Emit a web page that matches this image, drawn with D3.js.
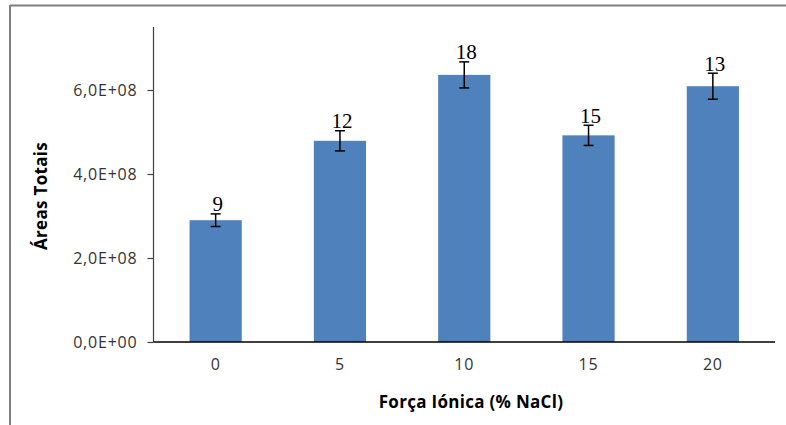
<!DOCTYPE html>
<html><head><meta charset="utf-8">
<script src="https://cdn.jsdelivr.net/npm/d3@7"></script>
<style>html,body{margin:0;padding:0;background:#fff;}</style>
</head><body>
<svg id="c" width="786" height="425"></svg>
<script>
const categories = ["0", "5", "10", "15", "20"];
const values = [2.90e8, 4.79e8, 6.36e8, 4.92e8, 6.09e8];
const errors = [0.15e8, 0.24e8, 0.31e8, 0.24e8, 0.31e8];
const labels = ["9", "12", "18", "15", "13"];
const yTicks = [0, 2e8, 4e8, 6e8];
const yTickLabels = ["0,0E+00", "2,0E+08", "4,0E+08", "6,0E+08"];

const svg = d3.select("#c");
const mLeft = 153.5, mRight = 775, mTop = 27, mBottom = 342;

// frame
svg.append("line").attr("x1", 10).attr("x2", 786).attr("y1", 5.5).attr("y2", 5.5)
  .attr("stroke", "#7f7f7f").attr("stroke-width", 2);
svg.append("line").attr("x1", 10).attr("x2", 10).attr("y1", 5).attr("y2", 425)
  .attr("stroke", "#7f7f7f").attr("stroke-width", 2);

const x = d3.scaleBand().domain(categories).range([mLeft, mRight]).paddingInner(0.58).paddingOuter(0.29);
const y = d3.scaleLinear().domain([0, 7.5e8]).range([mBottom, mTop]);

// bars
svg.append("g").selectAll("rect").data(values).join("rect")
  .attr("x", (d, i) => x(categories[i]))
  .attr("width", x.bandwidth())
  .attr("y", d => y(d))
  .attr("height", d => mBottom - y(d))
  .attr("fill", "#4f81bd");

// y axis
const yAxis = d3.axisLeft(y).tickValues(yTicks).tickFormat((d, i) => yTickLabels[i]).tickSizeOuter(0).tickSize(6).tickPadding(10);
const gy = svg.append("g").attr("transform", `translate(${mLeft},0)`).call(yAxis);
gy.select(".domain").attr("stroke", "#404040").attr("stroke-width", 1.2).attr("d", `M0,${mTop}V${mBottom}`);
gy.selectAll(".tick line").attr("stroke", "#404040").attr("stroke-width", 1.2);
gy.selectAll(".tick text").attr("font-family", "Open Sans").attr("font-size", 16)
  .attr("letter-spacing", 0.8).attr("fill", "#333");

// x axis
const xAxis = d3.axisBottom(x).tickSize(0).tickPadding(17);
const gx = svg.append("g").attr("transform", `translate(0,${mBottom})`).call(xAxis);
gx.select(".domain").attr("stroke", "#000").attr("stroke-width", 1.5).attr("d", `M${mLeft},0H${mRight}`);
gx.selectAll(".tick text").attr("font-family", "Open Sans").attr("font-size", 16)
  .attr("letter-spacing", 0.8).attr("fill", "#333");

// error bars
const eg = svg.append("g").attr("stroke", "#000").attr("stroke-width", 1.5);
values.forEach((v, i) => {
  const cx = x(categories[i]) + x.bandwidth() / 2;
  const y1 = y(v + errors[i]), y2 = y(v - errors[i]);
  eg.append("line").attr("x1", cx).attr("x2", cx).attr("y1", y1).attr("y2", y2);
  eg.append("line").attr("x1", cx - 5).attr("x2", cx + 5).attr("y1", y1).attr("y2", y1);
  eg.append("line").attr("x1", cx - 5).attr("x2", cx + 5).attr("y1", y2).attr("y2", y2);
});

// data labels
svg.append("g").selectAll("text").data(labels).join("text")
  .attr("x", (d, i) => x(categories[i]) + x.bandwidth() / 2 + 2)
  .attr("y", (d, i) => y(values[i] + errors[i]) - 2.5)
  .attr("text-anchor", "middle")
  .attr("font-family", "Liberation Serif")
  .attr("font-size", 21)
  .attr("fill", "#000")
  .text(d => d);

// axis titles
svg.append("text").attr("transform", "translate(47,196) rotate(-90)")
  .attr("text-anchor", "middle").attr("font-family", "Open Sans").attr("font-weight", "bold")
  .attr("font-size", 17).attr("letter-spacing", 0.3).attr("fill", "#000").text("Áreas Totais");
svg.append("text").attr("x", 471).attr("y", 408)
  .attr("text-anchor", "middle").attr("font-family", "Open Sans").attr("font-weight", "bold")
  .attr("font-size", 17).attr("letter-spacing", 0.3).attr("fill", "#000").text("Força Iónica (% NaCl)");
</script>
</body></html>
